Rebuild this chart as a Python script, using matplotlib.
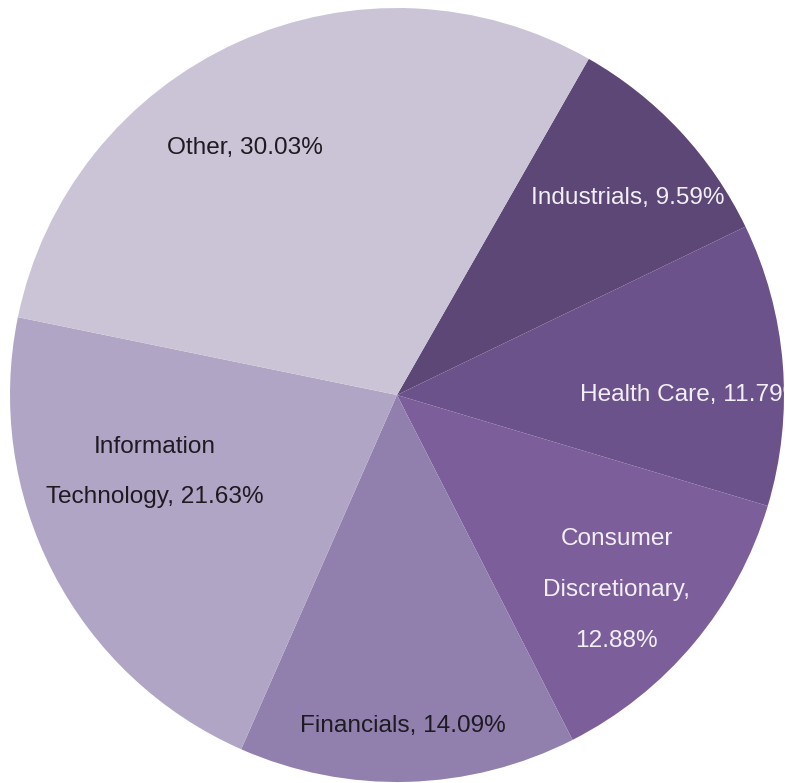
import matplotlib
matplotlib.use("Agg")
import matplotlib.pyplot as plt

names = ["Industrials", "Health Care", "Consumer Discretionary", "Financials",
         "Information Technology", "Other"]
values = [9.59, 11.79, 12.88, 14.09, 21.63, 30.03]
colors = ["#5c4776", "#6b528a", "#7b5e9a", "#9180ae", "#b0a5c4", "#cbc4d6"]
text_colors = ["#f2eff6", "#f2eff6", "#f2eff6", "#1e1a22", "#1e1a22", "#1e1a22"]
label_texts = ["Industrials, 9.59%", "Health Care, 11.79%",
               "Consumer\nDiscretionary,\n12.88%", "Financials, 14.09%",
               "Information\nTechnology, 21.63%", "Other, 30.03%"]
label_pos = [(0.597, 0.509), (0.473, 0.000), (0.568, -0.504), (0.016, -0.855),
             (-0.625, -0.199), (-0.393, 0.638)]
label_ha = ["center", "left", "center", "center", "center", "center"]

plt.rcParams['font.family'] = ['Liberation Sans', 'DejaVu Sans']

fig = plt.figure(figsize=(7.85, 7.83), dpi=100)
ax = fig.add_axes([10/785, 1/783, 774/785, 774/783])
ax.pie(values, colors=colors, startangle=60.3, counterclock=False,
       radius=1.0, wedgeprops=dict(linewidth=0))
ax.set_xlim(-1, 1)
ax.set_ylim(-1, 1)
ax.axis("off")

for txt, (x, y), c, ha in zip(label_texts, label_pos, text_colors, label_ha):
    ax.text(x, y, txt, ha=ha, va="center", color=c, fontsize=17.6,
            linespacing=2.7, multialignment="center", clip_on=True)

fig.savefig("out.png", dpi=100)
